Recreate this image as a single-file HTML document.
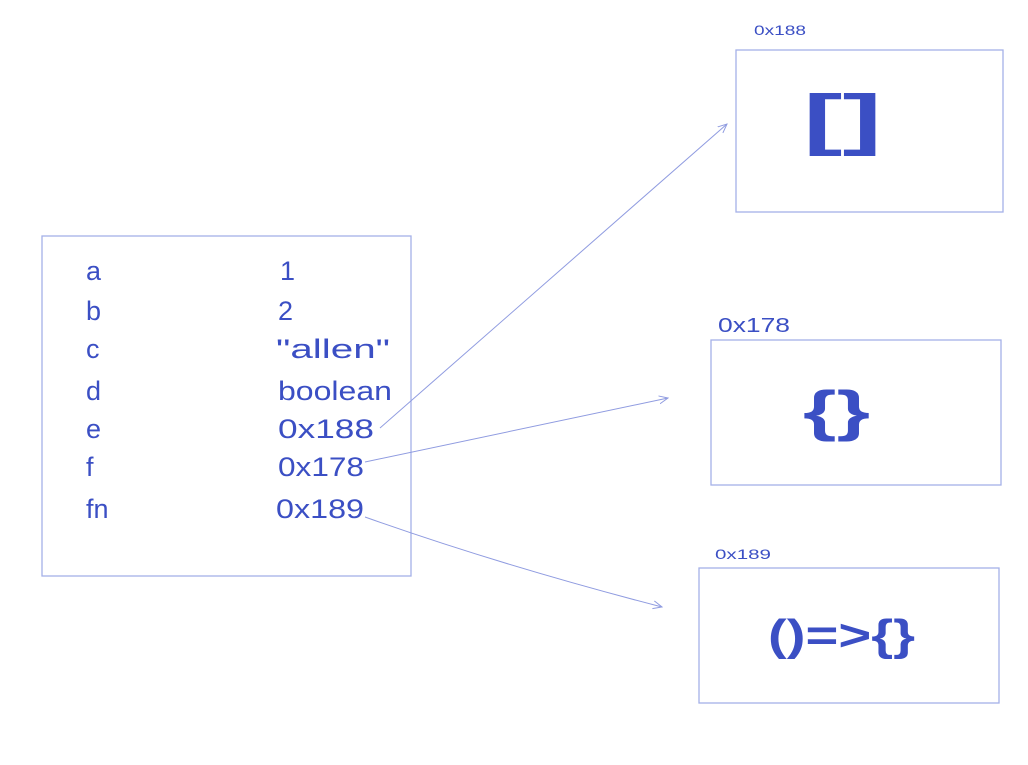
<!DOCTYPE html>
<html><head><meta charset="utf-8"><style>
html,body{margin:0;padding:0;background:#fff;}
svg text{font-family:"Liberation Sans",sans-serif;fill:#3b4fc4;}
</style></head><body>
<svg width="1028" height="760" viewBox="0 0 1028 760" xmlns="http://www.w3.org/2000/svg">
<defs><marker id="ah" markerWidth="10" markerHeight="10" refX="9" refY="5" orient="auto" markerUnits="userSpaceOnUse"><path d="M0,1 L9,5 L0,9" fill="none" stroke="#8f9be0" stroke-width="1"/></marker></defs>
<g fill="none" stroke="#a5b0e8" stroke-width="1.3">
<rect x="42" y="236" width="369" height="340"/>
<rect x="736" y="50" width="267" height="162"/>
<rect x="711" y="340" width="290" height="145"/>
<rect x="699" y="568" width="300" height="135"/>
</g>
<g stroke="#8f9be0" stroke-width="1" fill="none" marker-end="url(#ah)">
<line x1="380" y1="428" x2="727" y2="124"/>
<line x1="365" y1="462" x2="668" y2="398"/>
<path d="M365,517 Q500,565 662,607"/>
</g>
<g font-size="27">
<text x="86" y="280">a</text>
<text x="86" y="320">b</text>
<text x="86" y="358">c</text>
<text x="86" y="400">d</text>
<text x="86" y="438">e</text>
<text x="86" y="476">f</text>
<text x="86" y="518">fn</text>
<text x="280" y="280">1</text>
<text x="278" y="320">2</text>
<text x="276" y="358" textLength="114" lengthAdjust="spacingAndGlyphs">"allen"</text>
<text x="278" y="400" textLength="114" lengthAdjust="spacingAndGlyphs">boolean</text>
<text x="278" y="438" textLength="96" lengthAdjust="spacingAndGlyphs">0x188</text>
<text x="278" y="476" textLength="86" lengthAdjust="spacingAndGlyphs">0x178</text>
<text x="276" y="518" textLength="88" lengthAdjust="spacingAndGlyphs">0x189</text>
</g>
<text x="754" y="35" font-size="14" textLength="52" lengthAdjust="spacingAndGlyphs">0x188</text>
<text x="718" y="332" font-size="20" textLength="72" lengthAdjust="spacingAndGlyphs">0x178</text>
<text x="715" y="559" font-size="14" textLength="56" lengthAdjust="spacingAndGlyphs">0x189</text>
<text x="803" y="142" font-size="68" font-weight="bold" textLength="79" lengthAdjust="spacingAndGlyphs">[]</text>
<text x="803" y="430" font-size="56" font-weight="bold" textLength="67" lengthAdjust="spacingAndGlyphs">{}</text>
<text x="768" y="650" font-size="44" font-weight="bold" textLength="147" lengthAdjust="spacingAndGlyphs">()=&gt;{}</text>
</svg>
</body></html>
